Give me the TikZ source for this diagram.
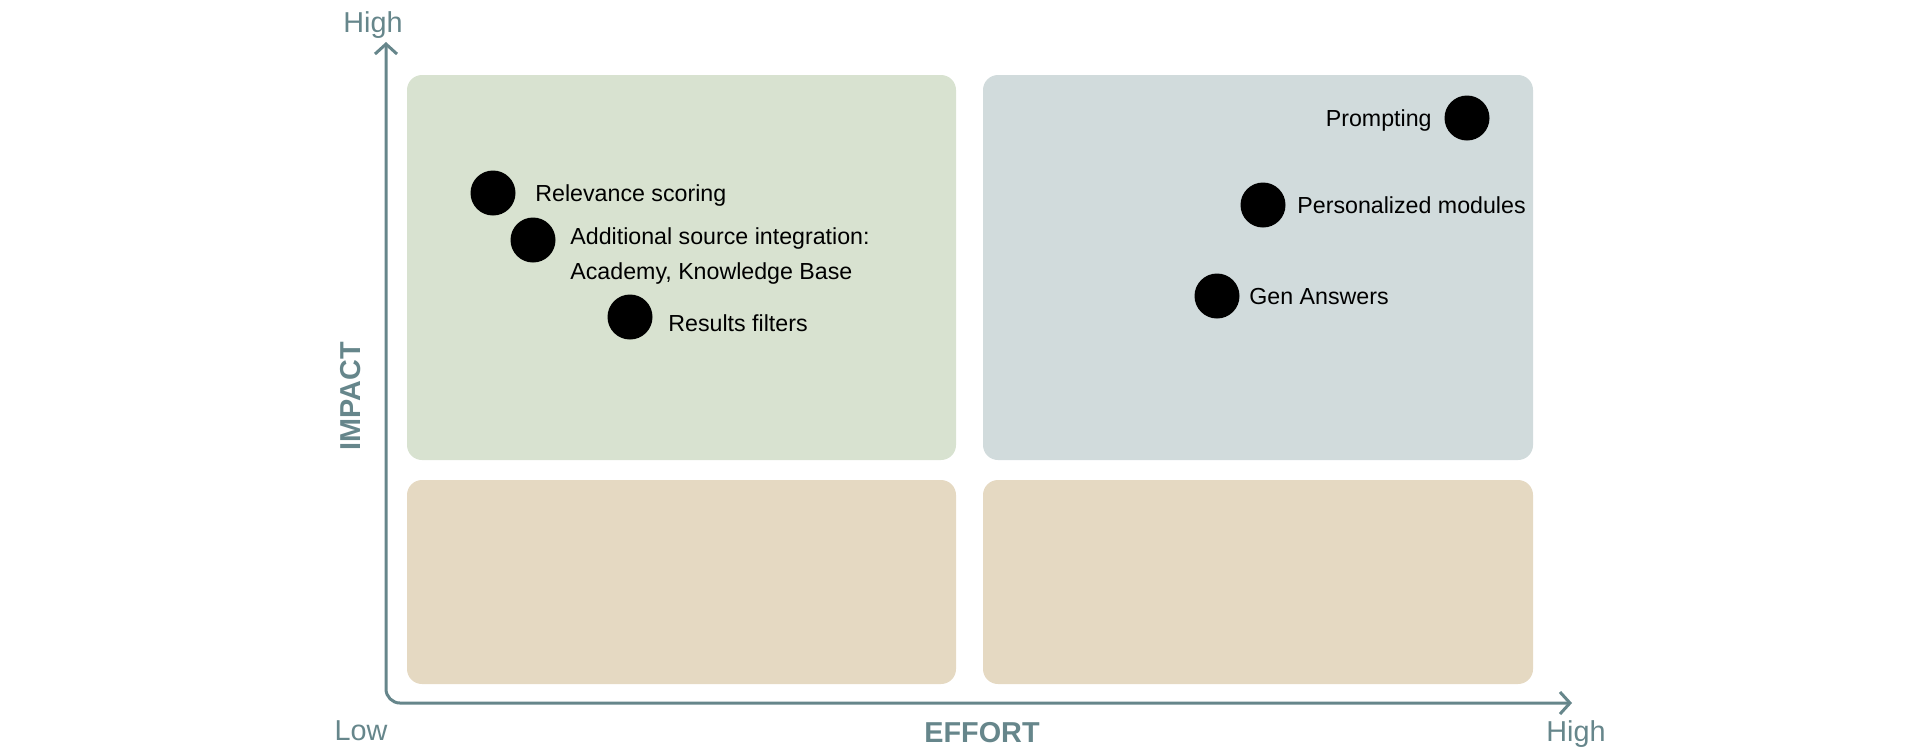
\documentclass[tikz,border=0pt]{standalone}
\usepackage{fontspec}
\setmainfont{Liberation Sans}
\usetikzlibrary{arrows.meta}
\definecolor{axiscol}{HTML}{66868B}
\definecolor{qgreen}{HTML}{D8E2D0}
\definecolor{qblue}{HTML}{D1DBDC}
\definecolor{qbeige}{HTML}{E5D9C2}
\begin{document}
\begin{tikzpicture}[x=0.5pt,y=-0.5pt,
  quad/.style={rounded corners=7.5pt},
  dot/.style={circle, fill=black, minimum size=22.5pt, inner sep=0pt},
  lbl/.style={font=\fontsize{11.6}{14}\selectfont, inner sep=0pt},
  axlbl/.style={text=axiscol, font=\fontsize{14.4}{17}\selectfont, inner sep=0pt},
  axtitle/.style={text=axiscol, font=\bfseries\fontsize{14.4}{17}\selectfont, inner sep=0pt},
  axisline/.style={draw=axiscol, line width=1.5pt, rounded corners=7pt,
    arrows={Straight Barb[length=5pt,width=11pt]-Straight Barb[length=5pt,width=11pt]}}]
\useasboundingbox (0,0) rectangle (1920,752);
% quadrants
\fill[quad, qgreen] (407,75) rectangle (956,460);
\fill[quad, qblue] (983,75) rectangle (1533,460);
\fill[quad, qbeige] (407,480) rectangle (956,684);
\fill[quad, qbeige] (983,480) rectangle (1533,684);
% axes
\coordinate (ytip) at (386,42);
\coordinate (xtip) at (1572,703);
\draw[axisline] (ytip) |- (xtip);
\node[axlbl, anchor=base] (yhigh) at (373,32) {High};
\node[axlbl, anchor=base] (low) at (361,740) {Low};
\node[axlbl, anchor=base] (xhigh) at (1576,741) {High};
\node[axtitle, anchor=base] (effort) at (982,742) {EFFORT};
\node[axtitle, rotate=90] (impact) at (351,396) {IMPACT};
% items
\node[dot] (d1) at (493,193) {};
\node[lbl, anchor=base west] (t1) at (535,201) {Relevance scoring};
\node[dot] (d2) at (533,240) {};
\node[lbl, anchor=base west] (t2a) at (570,244.3) {Additional source integration:};
\node[lbl, anchor=base west] (t2b) at (570,279.3) {Academy, Knowledge Base};
\node[dot] (d3) at (630,317) {};
\node[lbl, anchor=base west] (t3) at (668,331) {Results filters};
\node[dot] (d4) at (1467,118) {};
\node[lbl, anchor=base east] (t4) at (1432,126.7) {Prompting};
\node[dot] (d5) at (1263,205) {};
\node[lbl, anchor=base west] (t5) at (1297,213.3) {Personalized modules};
\node[dot] (d6) at (1217,296) {};
\node[lbl, anchor=base west] (t6) at (1249,304) {Gen Answers};
\end{tikzpicture}
\end{document}
